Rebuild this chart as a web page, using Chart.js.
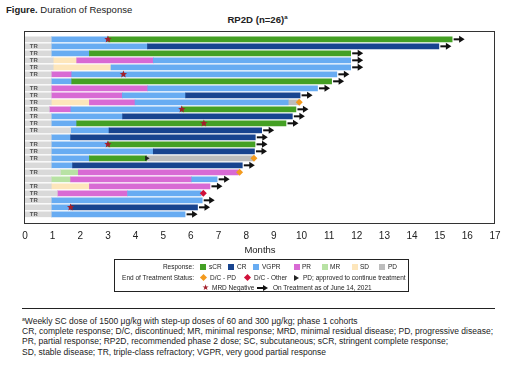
<!DOCTYPE html>
<html>
<head>
<meta charset="utf-8">
<script src="https://cdn.jsdelivr.net/npm/chart.js@4.4.0/dist/chart.umd.min.js"></script>
<style>
  body { margin: 0; background: #fff; font-family: "Liberation Sans", Arial, sans-serif; color: #222; }
  #page { position: relative; width: 520px; height: 371px; overflow: hidden; }
  #chartWrap { position: absolute; left: 0; top: 0; width: 520px; height: 260px; }
  .abs { position: absolute; white-space: nowrap; }
  #fig { left: 6px; top: 4px; font-size: 9.5px; line-height: 12px; }
  #title { left: 0; width: 515px; text-align: center; top: 11px; font-size: 9.6px; line-height: 12px; font-weight: bold; }
  #title sup { font-size: 6px; vertical-align: 4px; }
  #legend { left: 114px; top: 259px; width: 295px; height: 33px; border: 1px solid #222; box-sizing: border-box; }
  .lg { position: absolute; font-size: 6.5px; line-height: 10px; white-space: nowrap; color: #222; }
  .sw { position: absolute; width: 6px; height: 6px; }
  .dia { position: absolute; width: 5px; height: 5px; transform: rotate(45deg); }
  #rule { left: 22px; top: 308px; width: 473px; height: 0; border-top: 1.3px solid #222; }
  #notes { left: 22px; top: 314px; font-size: 8.5px; line-height: 10.2px; color: #222; }
  #notes sup { font-size: 5px; vertical-align: 3px; }
</style>
</head>
<body>
<div id="page">
  <div class="abs" id="fig"><b>Figure.</b> Duration of Response</div>
  <div class="abs" id="title">RP2D (n=26)<sup>a</sup></div>
  <div id="chartWrap"><canvas id="swimmer" width="520" height="260"></canvas></div>

  <div class="abs" id="legend">
    <!-- row 1 -->
    <span class="lg" style="right:214px; top:2px;">Response:</span>
    <div class="sw" style="left:85px; top:4px; background:#44a024;"></div><span class="lg" style="left:94px; top:2px;">sCR</span>
    <div class="sw" style="left:113px; top:4px; background:#18448f;"></div><span class="lg" style="left:122px; top:2px;">CR</span>
    <div class="sw" style="left:138px; top:4px; background:#68acf2;"></div><span class="lg" style="left:147px; top:2px;">VGPR</span>
    <div class="sw" style="left:179px; top:4px; background:#d86ad4;"></div><span class="lg" style="left:187px; top:2px;">PR</span>
    <div class="sw" style="left:207px; top:4px; background:#b8e2a4;"></div><span class="lg" style="left:215px; top:2px;">MR</span>
    <div class="sw" style="left:237px; top:4px; background:#fde6bb;"></div><span class="lg" style="left:245px; top:2px;">SD</span>
    <div class="sw" style="left:264px; top:4px; background:#bdbdbd;"></div><span class="lg" style="left:273px; top:2px;">PD</span>
    <!-- row 2 -->
    <span class="lg" style="right:214px; top:12.5px;">End of Treatment Status:</span>
    <div class="dia" style="left:86px; top:15px; background:#f39a1e;"></div><span class="lg" style="left:95px; top:12.5px;">D/C - PD</span>
    <div class="dia" style="left:130px; top:15px; background:#d0103a;"></div><span class="lg" style="left:139px; top:12.5px;">D/C - Other</span>
    <div style="position:absolute; left:179px; top:14.5px; width:0; height:0; border-top:3px solid transparent; border-bottom:3px solid transparent; border-left:5px solid #222;"></div>
    <span class="lg" style="left:188px; top:12.5px;">PD; approved to continue treatment</span>
    <!-- row 3 -->
    <span class="lg" style="left:87px; top:23px; color:#a31f2b; font-size:8px;">&#9733;</span><span class="lg" style="left:97px; top:23px;">MRD Negative</span>
    <div style="position:absolute; left:142px; top:27px; width:7px; height:2px; background:#111;"></div>
    <div style="position:absolute; left:148px; top:25px; width:0; height:0; border-top:3px solid transparent; border-bottom:3px solid transparent; border-left:5px solid #111;"></div>
    <span class="lg" style="left:158px; top:23px;">On Treatment as of June 14, 2021</span>
  </div>

  <div class="abs" id="rule"></div>
  <div class="abs" id="notes"><sup>a</sup>Weekly SC dose of 1500 μg/kg with step-up doses of 60 and 300 μg/kg; phase 1 cohorts<br>CR, complete response; D/C, discontinued; MR, minimal response; MRD, minimal residual disease; PD, progressive disease;<br>PR, partial response; RP2D, recommended phase 2 dose; SC, subcutaneous; sCR, stringent complete response;<br>SD, stable disease; TR, triple-class refractory; VGPR, very good partial response</div>
</div>

<script>
// rows are numbered 1..26 from the top
const rowCount = 26;
const trRows = [2, 3, 4, 5, 6, 8, 9, 10, 11, 12, 13, 14, 16, 17, 18, 20, 22, 23, 24, 26];
const monthTicks = [0, 17];

// lead-in (step-up) period, months from 0, one value per row
const leadInEnd = [0.95, 0.95, 0.95, 1.02, 1.02, 0.95, 0.95, 0.95, 0.95, 0.95, 0.88, 0.95, 0.95,
                   1.65, 0.95, 0.95, 0.95, 0.95, 0.95, 1.28, 0.95, 0.95, 1.17, 0.95, 0.95, 0.95];

// response segments: [row, start month, end month]
const sCR = [[1, 3.0, 15.45], [3, 2.33, 11.78], [7, 1.69, 11.09], [11, 5.67, 9.8], [13, 1.87, 9.44],
             [16, 3.0, 8.32], [18, 2.33, 4.4]];
const CR = [[2, 4.43, 14.97], [9, 5.81, 9.95], [12, 3.53, 9.67], [14, 3.04, 8.56], [15, 1.65, 8.33],
            [17, 4.64, 8.3], [19, 1.72, 7.86], [25, 1.65, 6.24]];
const VGPR = [[1, 0.95, 3.0], [2, 0.95, 4.43], [3, 0.95, 2.33], [4, 4.64, 11.78], [5, 3.11, 11.78],
              [6, 1.69, 11.28], [7, 0.95, 1.69], [8, 4.44, 10.58], [9, 3.52, 5.81], [10, 3.98, 9.52],
              [11, 1.66, 5.67], [12, 0.95, 3.53], [13, 0.95, 1.87], [14, 1.65, 3.04], [15, 0.95, 1.65],
              [16, 0.95, 3.0], [17, 0.95, 4.64], [18, 0.95, 2.33], [19, 0.95, 1.72], [21, 6.03, 6.95],
              [23, 3.71, 6.37], [24, 0.95, 6.41], [25, 0.95, 1.65], [26, 0.95, 5.79]];
const PR = [[4, 1.87, 4.64], [6, 0.95, 1.69], [8, 0.95, 4.44], [9, 0.95, 3.52], [10, 2.33, 3.98],
            [11, 0.88, 1.66], [20, 1.93, 7.72], [21, 1.65, 6.03], [22, 2.33, 6.69], [23, 1.17, 3.71]];
const MR = [[20, 1.28, 1.93], [21, 0.95, 1.65]];
const SD = [[4, 1.02, 1.87], [5, 1.02, 3.11], [10, 0.95, 2.33], [22, 0.95, 2.33]];
const PD = [[10, 9.52, 9.9], [18, 4.4, 8.24]];

// markers: [row, month]
const mrdNegative = [[1, 3.0], [6, 3.56], [11, 5.67], [13, 6.47], [16, 3.0], [25, 1.65]];
const dcPD = [[10, 9.92], [18, 8.28], [20, 7.76]];
const dcOther = [[23, 6.45]];
const pdContinue = [[18, 4.4]];
const onTreatmentRows = [1, 2, 3, 4, 5, 6, 7, 8, 9, 11, 12, 13, 14, 15, 16, 17, 19, 21, 22, 24, 25, 26];

const allSegments = [sCR, CR, VGPR, PR, MR, SD, PD];
function rowEnd(row) {
    let end = leadInEnd[row - 1];
    allSegments.forEach(list => list.forEach(([r, s, e]) => { if (r === row && e > end) end = e; }));
    return end;
}

function barSet(label, segs, color) {
    return {
        type: 'bar', label,
        data: segs.map(([r, s, e]) => ({ y: r - 1, x: [s, e] })),
        backgroundColor: color, borderWidth: 0, barThickness: 5, grouped: false, order: 2
    };
}

function markSet(label, pts, style) {
    return Object.assign({
        type: 'scatter', label,
        data: pts.map(([r, x]) => ({ x: x, y: r - 1 })),
        order: 0, borderWidth: 0
    }, style);
}

const leadIn = leadInEnd.map((e, i) => [i + 1, 0, e]);
const arrows = onTreatmentRows.map(r => [r, rowEnd(r)]);

function drawStar(ctx, cx, cy, R, color) {
    const r = R * 0.45;
    ctx.beginPath();
    for (let i = 0; i < 10; i++) {
        const a = -Math.PI / 2 + i * Math.PI / 5;
        const rad = i % 2 ? r : R;
        ctx.lineTo(cx + rad * Math.cos(a), cy + rad * Math.sin(a));
    }
    ctx.closePath();
    ctx.fillStyle = color;
    ctx.fill();
}

function drawArrow(ctx, x0, cy) {
    ctx.fillStyle = '#111';
    ctx.fillRect(x0 + 1.5, cy - 1, 6.5, 2);
    ctx.beginPath();
    ctx.moveTo(x0 + 7, cy - 3.5);
    ctx.lineTo(x0 + 12.5, cy);
    ctx.lineTo(x0 + 7, cy + 3.5);
    ctx.closePath();
    ctx.fill();
}

const framePlugin = {
    id: 'frame',
    afterDatasetsDraw(chart) {
        const { ctx, chartArea: a, scales } = chart;
        const xs = scales.x, ys = scales.y;
        ctx.save();
        // triple-class refractory tags
        ctx.font = 'bold 6px "Liberation Sans", Arial, sans-serif';
        ctx.fillStyle = '#555';
        ctx.textAlign = 'center';
        ctx.textBaseline = 'middle';
        trRows.forEach(r => ctx.fillText('TR', xs.getPixelForValue(0.32), ys.getPixelForValue(r - 1) + 0.5));
        // on-treatment arrows and MRD-negative stars
        arrows.forEach(([r, x]) => drawArrow(ctx, xs.getPixelForValue(x), ys.getPixelForValue(r - 1)));
        mrdNegative.forEach(([r, x]) => drawStar(ctx, xs.getPixelForValue(x), ys.getPixelForValue(r - 1), 3.8, '#a31f2b'));
        ctx.strokeStyle = '#333';
        ctx.lineWidth = 1;
        ctx.strokeRect(a.left - 0.5, a.top + 0.5, a.right - a.left, a.bottom - a.top);
        ctx.restore();
    }
};

new Chart(document.getElementById('swimmer'), {
    type: 'bar',
    data: {
        datasets: [
            markSet('D/C - PD', dcPD, { pointStyle: 'rectRot', pointRadius: 3.5, backgroundColor: '#f39a1e' }),
            markSet('D/C - Other', dcOther, { pointStyle: 'rectRot', pointRadius: 3.5, backgroundColor: '#d0103a' }),
            markSet('PD; approved', pdContinue, { pointStyle: 'triangle', rotation: 90, pointRadius: 3, backgroundColor: '#222' }),
            barSet('lead-in', leadIn, '#d9d9d9'),
            barSet('sCR', sCR, '#44a024'),
            barSet('CR', CR, '#18448f'),
            barSet('VGPR', VGPR, '#68acf2'),
            barSet('PR', PR, '#d86ad4'),
            barSet('MR', MR, '#b8e2a4'),
            barSet('SD', SD, '#fde6bb'),
            barSet('PD', PD, '#bdbdbd')
        ]
    },
    options: {
        indexAxis: 'y',
        responsive: false,
        animation: false,
        devicePixelRatio: 1,
        events: [],
        layout: { padding: { top: 31, left: 25, right: 25, bottom: 0 } },
        plugins: { legend: { display: false }, tooltip: { enabled: false } },
        scales: {
            x: {
                type: 'linear', min: monthTicks[0], max: monthTicks[1],
                grid: { display: false, drawTicks: false },
                border: { display: false },
                ticks: { stepSize: 1, color: '#222', padding: 7, font: { size: 10, family: '"Liberation Sans", Arial' } },
                title: { display: true, text: 'Months', color: '#222', padding: { top: 0, bottom: 4 },
                         font: { size: 9.5, family: '"Liberation Sans", Arial' } },
                afterFit(scale) { scale.height = 37; }
            },
            y: {
                type: 'linear', reverse: true, min: -1.19, max: rowCount + 0.24,
                offset: false, display: false, grid: { display: false, offset: false }
            }
        }
    },
    plugins: [framePlugin]
});
</script>
</body>
</html>
